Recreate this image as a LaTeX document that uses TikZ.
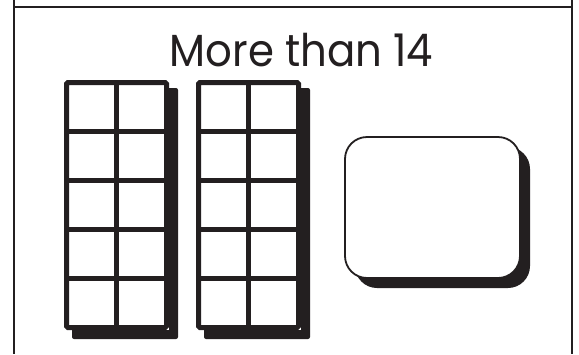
\documentclass[tikz,border=0pt]{standalone}
\usepackage{fontspec}
\setmainfont{Poppins}
\definecolor{ink}{HTML}{231F20}
\tikzset{
  tenframe/.pic={
    \fill[ink, rounded corners=2pt] (8,8) rectangle (114,259);
    \fill[white] (0,0) rectangle (105,250);
    \draw[ink, line width=5pt, rounded corners=1.5pt] (2.5,2.5) rectangle (102.5,247.5);
    \draw[ink, line width=5pt] (52.5,2.5) -- (52.5,247.5);
    \foreach \yy in {51.5,100.5,149.5,198.5}
      \draw[ink, line width=5pt] (2.5,\yy) -- (102.5,\yy);
  },
  framerule/.style={ink, line width=1.4pt},
  titletext/.style={ink, inner sep=0pt, anchor=base, xscale=0.93, transform shape, font=\fontsize{45}{50}\selectfont},
}
\begin{document}
\begin{tikzpicture}[x=1pt,y=-1pt]
\useasboundingbox (0,0) rectangle (579,354);
\fill[white] (0,0) rectangle (579,354);
% outer frame
\draw[framerule] (14,0) -- (14,354);
\draw[framerule] (572,0) -- (572,354);
\draw[framerule] (14,7) -- (572,7);
% title
\node[titletext] (title) at (301.5,66) {More than 14};
% ten frames
\pic at (64,80) {tenframe};
\pic at (196,80) {tenframe};
% answer box
\fill[ink, rounded corners=22pt] (355,147) rectangle (530,288);
\draw[ink, fill=white, line width=1.8pt, rounded corners=22pt] (345,137) rectangle (520,278);
\end{tikzpicture}
\end{document}
